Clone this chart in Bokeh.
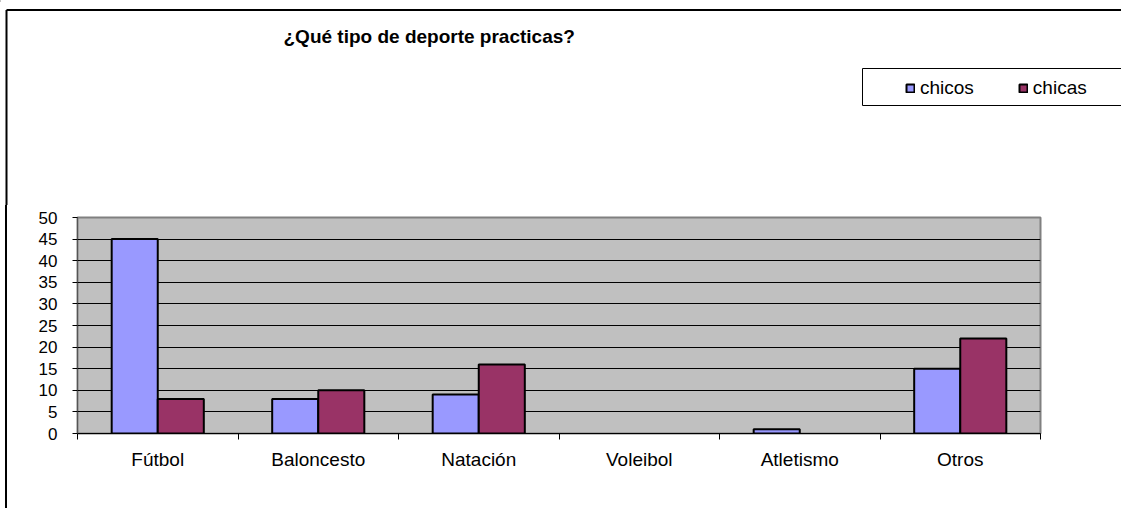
from bokeh.plotting import figure
from bokeh.models import Range1d, FixedTicker, ColumnDataSource, Legend, LegendItem, Div
from bokeh.layouts import column, row
from bokeh.transform import dodge
from bokeh.core.properties import value
from bokeh.embed import file_html
from bokeh.resources import INLINE

categories = ["Fútbol", "Baloncesto", "Natación", "Voleibol", "Atletismo", "Otros"]
chicos = [45, 8, 9, 0, 1, 15]
chicas = [8, 10, 16, 0, 0, 22]
y_ticks = [0, 5, 10, 15, 20, 25, 30, 35, 40, 45, 50]
series_names = ["chicos", "chicas"]
series_colors = ["#9999FF", "#993366"]
title_text = "¿Qué tipo de deporte practicas?"

FONT = "Liberation Sans"
W, H = 1121, 508
HEADER_H = 205
MAIN_H = H - HEADER_H


def blank(width, height, xr, yr):
    f = figure(width=width, height=height, x_range=xr, y_range=yr,
               min_border=0, x_axis_location=None, y_axis_location=None,
               output_backend="svg", toolbar_location=None, tools="")
    f.grid.visible = False
    f.outline_line_color = None
    f.background_fill_color = "white"
    f.border_fill_color = "white"
    return f


# ---------- header: title, legend, outer border ----------
hdr = blank(W, HEADER_H, Range1d(0, W), Range1d(HEADER_H, 0))
hdr.segment(x0=[6, 6], y0=[9.5, 9.5], x1=[W + 5, 6], y1=[9.5, HEADER_H + 5],
            line_color="black", line_width=2)
hdr.text(x=[283], y=[36], text=[title_text], text_font=value(FONT), text_font_size="19px",
         text_font_style="bold", text_color="black", text_baseline="alphabetic")
hdr.quad(left=[862], right=[W + 5], top=[68], bottom=[105],
         fill_color="white", line_color="black", line_width=1)
# legend swatches (placed out of view; only their legend glyphs are shown)
leg_r = [hdr.vbar(x=[-1000], top=[0], width=1, fill_color=c, line_color="black", line_width=2)
         for c in series_colors]
legend = Legend(items=[LegendItem(label=n, renderers=[r]) for n, r in zip(series_names, leg_r)],
                orientation="horizontal", location=(905, 106),
                border_line_color=None, background_fill_alpha=0,
                padding=5, spacing=44, label_standoff=5, margin=0,
                glyph_width=10, glyph_height=10, label_height=20,
                label_text_font=FONT, label_text_font_size="19px", label_text_color="black")
hdr.add_layout(legend, "center")

# ---------- left strip: continuation of the outer border ----------
strip = Div(text="", width=8, height=MAIN_H, margin=0,
            styles={"background": "linear-gradient(to right, white 5px, black 5px, black 7px, white 7px)"})

# ---------- main chart ----------
centers = [i + 0.5 for i in range(len(categories))]
src = ColumnDataSource(dict(
    x=centers, chicos=chicos, chicas=chicas,
    a_chicos=[1 if v else 0 for v in chicos],
    a_chicas=[1 if v else 0 for v in chicas]))

p = figure(frame_width=963, frame_height=216,
           min_border_left=69, min_border_right=81, min_border_top=12, min_border_bottom=75,
           x_range=Range1d(0, len(categories)), y_range=Range1d(0, 50),
           output_backend="svg", toolbar_location=None, tools="")
p.background_fill_color = "#C0C0C0"
p.border_fill_color = "white"
p.outline_line_color = "#808080"
p.outline_line_width = 2

bw = 0.287
p.vbar(x=dodge("x", -bw / 2, range=p.x_range), top="chicos", width=bw, source=src,
       fill_color=series_colors[0], line_color="black", line_width=2, line_alpha="a_chicos")
p.vbar(x=dodge("x", bw / 2, range=p.x_range), top="chicas", width=bw, source=src,
       fill_color=series_colors[1], line_color="black", line_width=2, line_alpha="a_chicas")

p.yaxis.ticker = FixedTicker(ticks=y_ticks)
p.yaxis.major_label_text_font = FONT
p.yaxis.major_label_text_font_size = "17px"
p.yaxis.major_label_text_color = "black"
p.yaxis.major_tick_out = 5
p.yaxis.major_tick_in = 0
p.yaxis.minor_tick_line_color = None
p.yaxis.major_tick_line_color = "black"
p.yaxis.axis_line_color = "#555555"
p.yaxis.major_label_standoff = 15
p.ygrid.ticker = FixedTicker(ticks=y_ticks)
p.ygrid.grid_line_color = "black"
p.xgrid.grid_line_color = None

p.xaxis.ticker = FixedTicker(ticks=centers, minor_ticks=list(range(len(categories) + 1)))
p.xaxis.major_label_overrides = {c: n for c, n in zip(centers, categories)}
p.xaxis.major_tick_line_color = None
p.xaxis.major_tick_out = 0
p.xaxis.major_tick_in = 0
p.xaxis.minor_tick_out = 6
p.xaxis.minor_tick_in = 0
p.xaxis.minor_tick_line_color = "black"
p.xaxis.axis_line_color = "black"
p.xaxis.major_label_text_font = FONT
p.xaxis.major_label_text_font_size = "19px"
p.xaxis.major_label_text_color = "black"
p.xaxis.major_label_standoff = 9

layout = column(hdr, row(strip, p, spacing=0), spacing=0)
open("out.html", "w").write(file_html(layout, INLINE))
